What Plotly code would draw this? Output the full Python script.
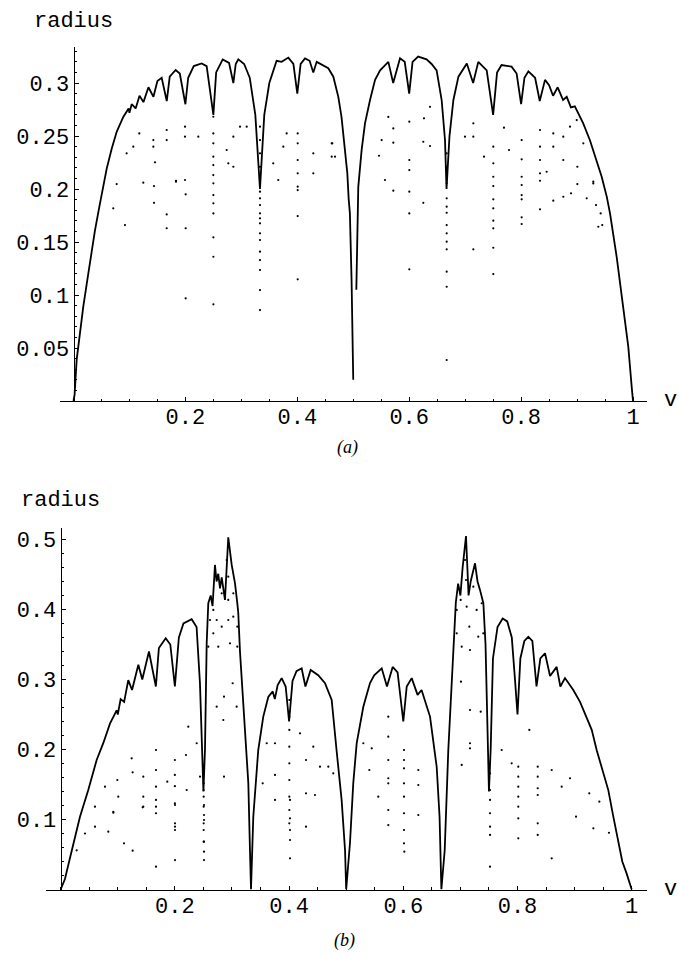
import plotly.graph_objects as go

# ---------------- panel (a) : upper edge of the point cloud (v, radius)
a_edge = [
    (0, 0), (0.002, 0.006), (0.0057, 0.039), (0.0116, 0.067), (0.0175, 0.089), (0.0247, 0.114),
    (0.0307, 0.136), (0.0384, 0.161), (0.0461, 0.183), (0.0545, 0.205), (0.0593, 0.219),
    (0.0683, 0.238), (0.0772, 0.254), (0.089, 0.268), (0.0985, 0.276), (0.1, 0.272), (0.104, 0.280),
    (0.1111, 0.276), (0.118, 0.288), (0.125, 0.282), (0.134, 0.296), (0.1429, 0.287), (0.150, 0.302),
    (0.1576, 0.305), (0.1667, 0.283), (0.172, 0.306), (0.1826, 0.3123), (0.19, 0.309), (0.2, 0.28),
    (0.205, 0.305), (0.215, 0.316), (0.229, 0.3185), (0.238, 0.316), (0.25, 0.27), (0.255, 0.31),
    (0.2667, 0.3223), (0.278, 0.319), (0.2857, 0.30), (0.29, 0.318), (0.2946, 0.3223), (0.305, 0.318),
    (0.315, 0.305), (0.325, 0.27), (0.3333, 0.20), (0.341, 0.27), (0.35, 0.30), (0.363, 0.321),
    (0.372, 0.320), (0.384, 0.324), (0.393, 0.318), (0.4, 0.29), (0.406, 0.318), (0.4138, 0.3233),
    (0.422, 0.321), (0.4286, 0.31), (0.4347, 0.320), (0.4554, 0.314), (0.4644, 0.306), (0.4733, 0.287),
    (0.479, 0.268), (0.485, 0.240), (0.4894, 0.215), (0.4919, 0.19), (0.494, 0.177), (0.497, 0.114),
    (0.4995, 0.051), (0.5, 0.02), (None, None),
    (0.5055, 0.105), (0.507, 0.16), (0.509, 0.202), (0.515, 0.237), (0.521, 0.262), (0.530, 0.284),
    (0.539, 0.303), (0.548, 0.312), (0.5627, 0.320), (0.5714, 0.30), (0.5836, 0.3233), (0.592, 0.32),
    (0.6, 0.29), (0.606, 0.32), (0.616, 0.325), (0.631, 0.3223), (0.64, 0.318), (0.649, 0.312),
    (0.658, 0.284), (0.664, 0.246), (0.6667, 0.20), (0.672, 0.25), (0.679, 0.284), (0.688, 0.306),
    (0.703, 0.3185), (0.7143, 0.30), (0.7235, 0.320), (0.7385, 0.312), (0.75, 0.27), (0.757, 0.31),
    (0.765, 0.317), (0.783, 0.3155), (0.792, 0.309), (0.8, 0.28), (0.806, 0.305), (0.813, 0.311),
    (0.825, 0.305), (0.8333, 0.283), (0.8427, 0.303), (0.85, 0.298), (0.8571, 0.288), (0.8654, 0.296),
    (0.875, 0.284), (0.8815, 0.287), (0.889, 0.277), (0.896, 0.278), (0.911, 0.262), (0.923, 0.246),
    (0.935, 0.227), (0.944, 0.2116), (0.953, 0.193), (0.9589, 0.177), (0.9708, 0.136), (0.9827, 0.089),
    (0.9916, 0.051), (0.9976, 0.0135), (1, 0),
]

# panel (a): isolated points below the edge (v, radius)
a_dots = [
    (0.0772, 0.2047), (0.0711, 0.1818), (0.092, 0.166), (0.1248, 0.206), (0.1439, 0.2028), (0.1439, 0.187),
    (0.1666, 0.176), (0.1666, 0.163), (0.1832, 0.2078), (0.2005, 0.195), (0.2005, 0.163), (0.2005, 0.0969),
    (0.25, 0.2054), (0.25, 0.1943), (0.25, 0.1865), (0.25, 0.177), (0.25, 0.1544), (0.25, 0.1361), (0.25, 0.0912),
    (0.3333, 0.1975), (0.3333, 0.1912), (0.3333, 0.1849), (0.3333, 0.1771), (0.3333, 0.1724), (0.3333, 0.1676),
    (0.3333, 0.1582), (0.3333, 0.1519), (0.3333, 0.1409), (0.3333, 0.133), (0.3333, 0.1236), (0.3333, 0.1047),
    (0.3333, 0.0858), (0.4007, 0.2022), (0.4007, 0.199), (0.4007, 0.1745), (0.4007, 0.1148),
    (0.5716, 0.1984), (0.6002, 0.1975), (0.6002, 0.177), (0.6002, 0.1242), (0.6252, 0.187),
    (0.667, 0.1833), (0.667, 0.1776), (0.667, 0.166), (0.667, 0.1582), (0.667, 0.1503), (0.667, 0.1431),
    (0.667, 0.122), (0.667, 0.1078), (0.667, 0.0387), (0.7146, 0.1431),
    (0.7503, 0.2028), (0.7503, 0.1903), (0.7503, 0.1818), (0.7503, 0.1701), (0.7503, 0.1629), (0.7503, 0.1446),
    (0.7503, 0.1198), (0.801, 0.1943), (0.801, 0.1903), (0.801, 0.1733), (0.801, 0.167), (0.8338, 0.2078),
    (0.8338, 0.1808), (0.8575, 0.189), (0.8754, 0.1927), (0.8892, 0.1959), (0.9005, 0.2047), (0.9172, 0.1912),
    (0.929, 0.2069), (0.9339, 0.1849), (0.9422, 0.177), (0.938, 0.1644), (0.945, 0.166),
    (0.5627, 0.268), (0.5716, 0.2572), (0.5716, 0.2437), (0.5567, 0.2085), (0.546, 0.2314), (0.6002, 0.2635),
    (0.6002, 0.2274), (0.6002, 0.2179), (0.6252, 0.2446), (0.6372, 0.2406), (0.6264, 0.2667), (0.6372, 0.2776),
    (0.667, 0.2337), (0.667, 0.221), (0.667, 0.2054), (0.667, 0.1912), (0.6997, 0.2494), (0.7146, 0.2494),
    (0.7146, 0.262), (0.7337, 0.2305), (0.7503, 0.24), (0.7503, 0.2242), (0.7503, 0.2116), (0.7694, 0.2579),
    (0.7784, 0.2368), (0.801, 0.2462), (0.801, 0.228), (0.801, 0.2116), (0.801, 0.2038), (0.8338, 0.2557),
    (0.8338, 0.24), (0.8338, 0.2274), (0.8338, 0.2148), (0.8457, 0.2163), (0.8575, 0.2525), (0.8575, 0.24),
    (0.8754, 0.2494), (0.8754, 0.2274), (0.8874, 0.2588), (0.8994, 0.2651), (0.9005, 0.221), (0.9112, 0.2431),
    (0.929, 0.2053), (0.5508, 0.2462), (0.4626, 0.2431), (0.4674, 0.2305),
    (0.1427, 0.2462), (0.1427, 0.24), (0.1666, 0.2557), (0.1666, 0.2462), (0.1457, 0.2252), (0.1993, 0.2588),
    (0.1993, 0.2494), (0.1993, 0.2085), (0.1832, 0.2069), (0.2231, 0.2494), (0.2499, 0.2682), (0.2499, 0.2525),
    (0.2499, 0.2431), (0.2499, 0.2305), (0.2499, 0.2226), (0.2499, 0.2132), (0.2738, 0.2368), (0.2857, 0.221),
    (0.2857, 0.2494), (0.2976, 0.2588), (0.3096, 0.2588), (0.3333, 0.2588), (0.3333, 0.2462), (0.3333, 0.2337),
    (0.3333, 0.221), (0.3333, 0.2085), (0.381, 0.2525), (0.375, 0.24), (0.4007, 0.2525),
    (0.4007, 0.2431), (0.4007, 0.2274), (0.4007, 0.2148), (0.4286, 0.2337), (0.4286, 0.2148), (0.4615, 0.2431),
    (0.4615, 0.2305), (0.366, 0.2085), (0.357, 0.2242), (0.2767, 0.2242), (0.095, 0.2337), (0.1069, 0.24),
    (0.1176, 0.2525),
]

# ---------------- panel (b)
b_edge = [
    (0, 0), (0.0075, 0.015), (0.0163, 0.045), (0.025, 0.075), (0.0338, 0.104), (0.0483, 0.142), (0.063, 0.185),
    (0.0746, 0.209), (0.0863, 0.237), (0.098, 0.256), (0.1, 0.25), (0.105, 0.272), (0.1111, 0.268),
    (0.1184, 0.299), (0.125, 0.285), (0.136, 0.321), (0.1429, 0.30), (0.1546, 0.34), (0.1667, 0.29),
    (0.172, 0.345), (0.1839, 0.359), (0.192, 0.35), (0.2, 0.29), (0.207, 0.36), (0.215, 0.38), (0.2294, 0.386),
    (0.238, 0.375), (0.2439, 0.295), (0.247, 0.199), (0.25, 0.14), (0.2527, 0.2), (0.2557, 0.352),
    (0.2585, 0.409), (0.2627, 0.42), (0.266, 0.405), (0.2702, 0.4636), (0.273, 0.44), (0.276, 0.451),
    (0.279, 0.43), (0.282, 0.446), (0.2877, 0.4136), (0.2935, 0.503), (0.2995, 0.4636), (0.3053, 0.4374),
    (0.3093, 0.409), (0.311, 0.395), (0.314, 0.34), (0.3227, 0.237), (0.3286, 0.152), (0.3315, 0.056),
    (0.3333, 0), (0.3373, 0.104), (0.346, 0.199), (0.3548, 0.247), (0.3636, 0.275), (0.3713, 0.283),
    (0.375, 0.272), (0.38, 0.292), (0.387, 0.302), (0.394, 0.29), (0.4, 0.24), (0.406, 0.298), (0.413, 0.312),
    (0.422, 0.316), (0.4286, 0.29), (0.4378, 0.3136), (0.451, 0.306), (0.4629, 0.2946), (0.4746, 0.2707),
    (0.483, 0.2), (0.492, 0.128), (0.498, 0.056), (0.5, 0), (0.5066, 0.066), (0.5124, 0.152), (0.5184, 0.209),
    (0.53, 0.261), (0.5417, 0.295), (0.549, 0.306), (0.5622, 0.316), (0.5714, 0.29), (0.5814, 0.318),
    (0.59, 0.31), (0.6, 0.24), (0.606, 0.29), (0.6147, 0.302), (0.625, 0.278), (0.632, 0.285), (0.6468, 0.247),
    (0.6585, 0.175), (0.6635, 0.104), (0.6667, 0), (0.6725, 0.056), (0.6788, 0.199), (0.6876, 0.342),
    (0.692, 0.41), (0.696, 0.437), (0.7, 0.42), (0.7039, 0.46), (0.7098, 0.505), (0.7143, 0.42), (0.718, 0.44),
    (0.7256, 0.466), (0.73, 0.44), (0.7343, 0.428), (0.7402, 0.409), (0.744, 0.35), (0.747, 0.25), (0.75, 0.14),
    (0.753, 0.2), (0.757, 0.33), (0.765, 0.375), (0.774, 0.387), (0.782, 0.383), (0.79, 0.36), (0.7956, 0.3),
    (0.8, 0.25), (0.805, 0.33), (0.812, 0.355), (0.819, 0.361), (0.826, 0.355), (0.8333, 0.29), (0.84, 0.33),
    (0.8482, 0.3375), (0.857, 0.305), (0.8686, 0.318), (0.875, 0.29), (0.8832, 0.302), (0.8977, 0.285),
    (0.9095, 0.268), (0.918, 0.252), (0.93, 0.228), (0.9387, 0.199), (0.9475, 0.175), (0.959, 0.142),
    (0.9678, 0.104), (0.9765, 0.066), (0.9835, 0.04), (0.991, 0.023), (1, 0),
]

b_dots = [
    (0.0426, 0.080), (0.028, 0.056), (0.0601, 0.0897), (0.0834, 0.0826), (0.0922, 0.111), (0.1109, 0.066),
    (0.1261, 0.0554), (0.1436, 0.1174), (0.1669, 0.1089), (0.1669, 0.0326), (0.2002, 0.1207), (0.2002, 0.0897),
    (0.2002, 0.085), (0.2002, 0.0421), (0.251, 0.1207), (0.251, 0.1064), (0.251, 0.0993), (0.251, 0.0683),
    (0.251, 0.054), (0.251, 0.0421), (0.4016, 0.1279), (0.4016, 0.1017), (0.4016, 0.085), (0.4016, 0.0707),
    (0.4016, 0.0446), (0.4296, 0.0897), (0.3753, 0.128),
    (0.2, 0.185), (0.2, 0.1636), (0.2, 0.1476), (0.2, 0.1231), (0.1669, 0.1707), (0.1669, 0.1469),
    (0.1669, 0.1279), (0.1669, 0.1183), (0.2504, 0.1754), (0.2504, 0.1517), (0.2504, 0.1421), (0.2504, 0.1326),
    (0.2504, 0.1183), (0.2504, 0.0946), (0.2504, 0.085), (0.2504, 0.0683), (0.126, 0.1674), (0.1447, 0.1326),
    (0.1243, 0.1874), (0.0992, 0.1564), (0.0776, 0.1469), (0.0601, 0.1183), (0.0922, 0.1097), (0.1447, 0.1612),
    (0.1669, 0.1993), (0.1867, 0.154), (0.2194, 0.1921), (0.2207, 0.1421), (0.2235, 0.2326), (0.2382, 0.2089),
    (0.2732, 0.2611), (0.286, 0.2754), (0.286, 0.1611), (0.2848, 0.2421), (0.3012, 0.2946), (0.3082, 0.2611),
    (0.4004, 0.2707), (0.4004, 0.2469), (0.4004, 0.2279), (0.4004, 0.204), (0.4004, 0.1803), (0.4004, 0.1564),
    (0.4004, 0.1326), (0.4004, 0.1136), (0.4004, 0.0946), (0.3753, 0.2089), (0.3753, 0.1636), (0.3608, 0.2089),
    (0.3538, 0.1517), (0.4296, 0.185), (0.4296, 0.1374), (0.4453, 0.135), (0.4541, 0.1754), (0.4687, 0.1754),
    (0.4774, 0.166), (0.4424, 0.204), (0.4191, 0.2231), (0.2002, 0.0946), (0.1447, 0.1183), (0.1009, 0.1326),
    (0.244, 0.1611),
    (0.5737, 0.2469), (0.5737, 0.2183), (0.5737, 0.185), (0.5737, 0.1589), (0.5737, 0.1517), (0.5737, 0.1136),
    (0.5737, 0.0921), (0.6012, 0.1993), (0.6012, 0.185), (0.6012, 0.1731), (0.6012, 0.1517), (0.6012, 0.1326),
    (0.6012, 0.1089), (0.6012, 0.085), (0.6012, 0.066), (0.6263, 0.1707), (0.6263, 0.1493), (0.6263, 0.1064),
    (0.5562, 0.1326), (0.5405, 0.1707), (0.53, 0.2089), (0.5447, 0.2017), (0.7023, 0.1779), (0.7168, 0.2564),
    (0.7168, 0.2089), (0.7168, 0.2017), (0.7356, 0.254), (0.7519, 0.166), (0.7519, 0.1421), (0.7519, 0.1279),
    (0.7519, 0.1089), (0.7519, 0.0897), (0.7519, 0.0779), (0.7723, 0.1993), (0.7898, 0.1803), (0.8014, 0.1754),
    (0.8014, 0.1611), (0.8014, 0.1469), (0.8014, 0.1326), (0.8014, 0.1183), (0.8014, 0.1017), (0.8014, 0.0731),
    (0.8207, 0.2279), (0.8354, 0.1754), (0.8354, 0.1611), (0.8354, 0.1446), (0.8354, 0.135), (0.8354, 0.0946),
    (0.8354, 0.0779), (0.8599, 0.1707), (0.8774, 0.1469), (0.892, 0.1589), (0.9025, 0.104), (0.9257, 0.1374),
    (0.9328, 0.0874), (0.9433, 0.1254), (0.9602, 0.0811), (0.701, 0.2969), (0.6018, 0.054), (0.7518, 0.0326),
    (0.8599, 0.0446),
    (0.2673, 0.3993), (0.2673, 0.366), (0.2732, 0.385), (0.282, 0.4231), (0.282, 0.3754), (0.2907, 0.4707),
    (0.2935, 0.4469), (0.2935, 0.4136), (0.2935, 0.385), (0.2965, 0.3517), (0.3023, 0.4231), (0.3023, 0.3897),
    (0.3093, 0.3754), (0.3093, 0.3469), (0.276, 0.3469), (0.2615, 0.385), (0.2585, 0.3469),
    (0.6935, 0.3993), (0.6935, 0.366), (0.7005, 0.4136), (0.7081, 0.4707), (0.7098, 0.4421), (0.711, 0.404),
    (0.7156, 0.3754), (0.7168, 0.3421), (0.7226, 0.4326), (0.7285, 0.3993), (0.7313, 0.3611), (0.7373, 0.4089),
    (0.7401, 0.366), (0.7023, 0.3469),
]

x_tick_vals = [0.2, 0.4, 0.6, 0.8, 1.0]
x_tick_text = ["0.2", "0.4", "0.6", "0.8", "1"]
a_ytick_vals = [0.05, 0.1, 0.15, 0.2, 0.25, 0.3]
a_ytick_text = ["0.05", "0.1", "0.15", "0.2", "0.25", "0.3"]
b_ytick_vals = [0.1, 0.2, 0.3, 0.4, 0.5]
b_ytick_text = ["0.1", "0.2", "0.3", "0.4", "0.5"]

W, H = 679, 954
MONO = "Liberation Mono, Courier New, monospace"
tickfont = dict(family=MONO, size=22, color="black")


def unzip(pts):
    return [p[0] for p in pts], [p[1] for p in pts]


fig = go.Figure()
for edge, dots, xa, ya in [(a_edge, a_dots, "x", "y"), (b_edge, b_dots, "x2", "y2")]:
    ev, er = unzip(edge)
    fig.add_trace(go.Scatter(x=ev, y=er, mode="lines", xaxis=xa, yaxis=ya,
                             line=dict(color="black", width=1.8), cliponaxis=False,
                             connectgaps=False, showlegend=False, hoverinfo="skip"))
    dv, dr = unzip(dots)
    fig.add_trace(go.Scatter(x=dv, y=dr, mode="markers", xaxis=xa, yaxis=ya,
                             marker=dict(color="black", size=2.2), cliponaxis=False,
                             showlegend=False, hoverinfo="skip"))


def px(x):
    return x / W


def py(y):
    return 1 - y / H


common_x = dict(showline=True, linecolor="black", linewidth=1, ticks="inside", ticklen=4,
                tickcolor="black", tickwidth=1, showgrid=False, zeroline=False,
                tickvals=x_tick_vals, ticktext=x_tick_text, tickfont=tickfont,
                ticklabelstandoff=-4,
                minor=dict(dtick=0.05, tick0=0, ticks="inside", ticklen=2.5, tickcolor="black",
                           showgrid=False))
common_y = dict(showline=True, linecolor="black", linewidth=1, ticks="inside", ticklen=4,
                tickcolor="black", tickwidth=1, showgrid=False, zeroline=False, tickfont=tickfont,
                anchor="free", side="left")

fig.update_layout(
    width=W, height=H, margin=dict(l=0, r=0, t=0, b=0),
    paper_bgcolor="white", plot_bgcolor="white",
    xaxis=dict(domain=[px(60), px(647)], range=[-0.0241, 1.025], anchor="y", **common_x),
    yaxis=dict(domain=[py(401), py(47)], range=[0, 0.334], position=px(73.5),
               tickvals=a_ytick_vals, ticktext=a_ytick_text,
               minor=dict(dtick=0.01, tick0=0, ticks="inside", ticklen=2.5, tickcolor="black",
                          showgrid=False), **common_y),
    xaxis2=dict(domain=[px(46), px(647.3)], range=[-0.0257, 1.0273], anchor="y2", **common_x),
    yaxis2=dict(domain=[py(889.5), py(528)], range=[0, 0.5164], position=px(60.7),
                tickvals=b_ytick_vals, ticktext=b_ytick_text,
                minor=dict(dtick=0.02, tick0=0, ticks="inside", ticklen=2.5, tickcolor="black",
                           showgrid=False), **common_y),
)

labels = [
    ("radius", 73.5, 21.7, MONO, 22),
    ("v", 670, 401, MONO, 22),
    ("<i>(a)</i>", 348, 447, "Liberation Serif, Times New Roman, serif", 18),
    ("radius", 60, 500, MONO, 22),
    ("v", 670, 889, MONO, 22),
    ("<i>(b)</i>", 344, 940, "Liberation Serif, Times New Roman, serif", 18),
]
for text, x, y, fam, size in labels:
    fig.add_annotation(text=text, x=px(x), y=py(y), xref="paper", yref="paper",
                       xanchor="center", yanchor="middle", showarrow=False, borderpad=0,
                       font=dict(family=fam, size=size, color="black"))

fig.write_html("out.html", config={"displayModeBar": False, "staticPlot": True},
               post_script="document.body.style.margin='0';")
